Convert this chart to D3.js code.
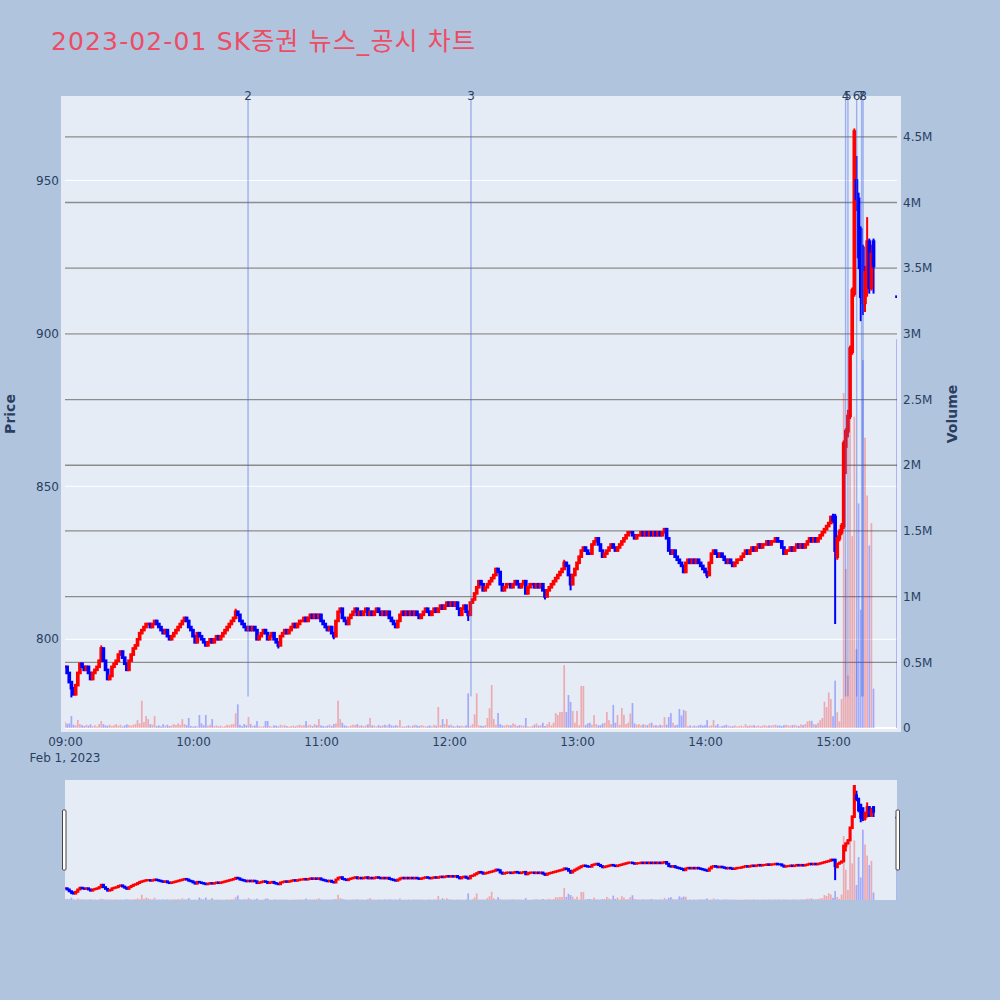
<!DOCTYPE html>
<html>
<head>
<meta charset="utf-8">
<script src="https://cdn.jsdelivr.net/npm/d3@7"></script>
<style>
  html, body { margin: 0; padding: 0; background: #b0c4de; }
  svg { display: block; font-family: "DejaVu Sans", verdana, "Noto Sans CJK KR", sans-serif; }
</style>
</head>
<body>
<div id="chart"></div>
<script>
// 1-minute closes from 09:00 to 14:59 (open of each bar = previous close)
const firstOpen = 791;
const earlyClose = [
  791,789,786,784,782,785,789,792,791,790, 791,789,787,789,790,791,793,797,793,790,
  787,788,791,792,793,795,796,794,792,790, 793,795,797,798,800,802,803,804,805,805,
  804,805,806,805,804,803,802,803,801,800, 801,802,803,804,805,806,807,806,804,803,
  801,799,802,801,800,799,798,799,800,799, 800,801,800,801,802,803,804,805,806,807,
  809,808,806,805,804,803,804,803,804,803, 800,801,802,803,802,800,801,802,800,799,
  798,801,802,803,802,803,804,805,804,805, 806,806,807,806,807,808,807,808,807,808,
  806,805,804,803,804,802,801,806,809,810, 807,806,805,807,808,809,810,808,809,808,
  809,810,808,809,808,809,810,809,808,809, 808,809,807,806,805,804,806,808,809,808,
  809,808,809,808,809,808,807,808,809,810, 809,808,809,810,809,810,811,810,811,812,
  811,812,811,812,810,808,810,811,809,808, 812,813,815,817,819,818,816,817,818,819,
  820,821,823,822,818,816,817,818,818,817, 818,819,818,817,818,819,815,817,818,818,
  817,818,817,818,816,814,816,817,818,819, 820,821,822,823,825,824,821,818,821,823,
  825,827,829,830,829,828,828,831,832,833, 831,829,827,828,829,830,831,830,829,830,
  831,832,833,834,835,835,834,833,834,834, 835,834,835,834,835,834,835,834,835,834,
  835,836,833,829,828,829,827,826,825,824, 822,825,826,825,826,825,826,825,824,823,
  822,821,825,828,829,828,827,828,827,826, 825,826,825,824,825,826,826,827,828,829,
  828,829,830,829,830,831,830,831,831,832, 831,832,832,833,832,832,830,828,829,829,
  830,829,830,831,830,831,830,831,832,833, 832,833,832,833,834,835,836,837,838,840
];
const wickHigh = { 17: 798, 80: 810, 234: 826 };
const wickLow = { 3: 781, 100: 797, 126: 800, 189: 806, 225: 813, 237: 816, 301: 820 };

// 15:00 - 15:19, full OHLC
const lateOpen  = [840,840,827,833,835,837,863,868,873,894,913,950,944,934,928,910,920,930,915,930];
const lateHigh  = [841,841,834,836,838,865,869,875,896,915,967,958,946,935,929,922,938,931,929,931];
const lateLow   = [838,805,826,832,834,836,854,866,872,893,912,940,921,904,906,907,912,913,914,913];
const lateClose = [839,829,833,835,837,864,868,873,895,914,966,944,925,912,910,920,930,915,926,922];

// closing auction 15:30
const closeTime = "15:30";
const closePrice = 912;
const closeVolume = 2960000;

// volume per minute 09:00 - 15:19, thousands of shares
const volumeK = [
  48,33,35,91,25,20,61,30,22,15, 25,18,28,14,22,12,30,53,28,20,
  18,25,15,22,30,18,25,12,20,28, 22,18,25,30,60,35,208,45,91,68,
  30,25,91,15,20,12,28,18,25,15, 20,30,22,35,25,68,30,22,76,15,
  10,15,12,99,35,20,99,18,25,68, 15,20,12,18,10,15,25,20,28,30,
  112,180,25,15,30,22,84,30,15,20, 53,12,10,15,53,53,15,10,20,18,
  12,25,18,22,15,10,15,18,12,20, 25,18,22,53,20,25,15,30,22,68,
  20,15,12,18,25,15,30,35,208,68, 40,20,15,12,18,25,22,30,18,20,
  15,20,28,76,20,18,12,22,15,20, 25,18,30,20,15,22,18,61,12,10,
  15,20,12,18,25,20,15,22,18,12, 15,20,12,25,18,160,22,68,30,68,
  20,25,15,12,20,15,18,12,20,264, 15,30,104,264,20,18,15,22,76,150,
  327,68,25,114,30,20,18,25,22,20, 35,28,15,22,20,18,76,12,10,15,
  25,35,18,22,40,15,28,45,20,40, 114,100,122,122,479,122,251,198,130,40,
  130,20,320,320,22,35,40,25,99,30, 20,22,35,40,122,60,30,176,40,99,
  25,152,100,30,40,110,190,35,25,30, 20,28,25,22,35,40,20,22,18,25,
  20,84,25,84,114,40,20,25,145,95, 137,130,15,20,12,18,15,20,25,18,
  22,60,15,20,60,18,30,12,15,20, 25,18,12,15,20,12,15,18,12,30,
  15,20,18,22,15,20,12,18,22,15, 20,18,22,25,18,20,15,22,25,20,
  18,22,25,20,15,28,22,30,50,55, 55,30,25,40,60,76,200,160,270,220,
  90,360,120,50,220,2550,1210,400,2400,1460, 2370,600,1710,900,2800,2210,1770,1390,1560,300
];

// news / disclosure markers
const newsLabels = ["2", "3", "4", "5", "6", "7", "8"];
const newsTimes = ["10:25:48", "12:10:18", "15:05:54", "15:07:00", "15:11:06", "15:13:24", "15:14:06"];

const priceTicks = [800, 850, 900, 950];
const volumeTicks = [0, 0.5e6, 1e6, 1.5e6, 2e6, 2.5e6, 3e6, 3.5e6, 4e6, 4.5e6];
const hourTicks = ["09:00", "10:00", "11:00", "12:00", "13:00", "14:00", "15:00"];

const title = "2023-02-01 SK증권 뉴스_공시 차트";

// ---------------------------------------------------------------
const W = 1000, H = 1000;
const plotL = 65, plotR = 897, plotT = 100, plotB = 728;
const sliderT = 780, sliderB = 900;

const parseT = s => {
  const p = s.split(":").map(Number);
  return new Date(2023, 1, 1, p[0], p[1], p[2] || 0);
};
const minuteDate = m => new Date(2023, 1, 1, 9, m);

// build candles
const candles = [];
let prev = firstOpen;
earlyClose.forEach((c, i) => {
  const o = prev;
  let h = Math.max(o, c), l = Math.min(o, c);
  if (wickHigh[i] != null) h = Math.max(h, wickHigh[i]);
  if (wickLow[i] != null) l = Math.min(l, wickLow[i]);
  candles.push({ t: minuteDate(i), o, h, l, c });
  prev = c;
});
lateClose.forEach((c, k) => {
  candles.push({ t: minuteDate(360 + k), o: lateOpen[k], h: lateHigh[k], l: lateLow[k], c });
});
candles.push({ t: parseT(closeTime), o: closePrice, h: closePrice, l: closePrice, c: closePrice });

let lastUp = true;
candles.forEach((d, i) => {
  if (d.c > d.o) d.up = true;
  else if (d.c < d.o) d.up = false;
  else d.up = i > 0 && d.c !== candles[i - 1].c ? d.c > candles[i - 1].c : lastUp;
  lastUp = d.up;
  d.v = i < volumeK.length ? volumeK[i] * 1000 : closeVolume;
});

const x = d3.scaleTime()
  .domain([parseT("09:00"), parseT("15:30")])
  .range([plotL, plotR]);
const yPrice = d3.scaleLinear().domain([771.0, 976.3]).range([plotB, plotT]);
const yVol = d3.scaleLinear().domain([0, 4.78e6]).range([plotB, plotT]);
const yPriceS = yPrice.copy().range([sliderB, sliderT]);
const yVolS = yVol.copy().range([sliderB, sliderT]);

const svg = d3.select("#chart").append("svg")
  .attr("width", W).attr("height", H);

svg.append("rect").attr("width", W).attr("height", H).attr("fill", "#b0c4de");

const defs = svg.append("defs");
defs.append("clipPath").attr("id", "clipMain")
  .append("rect").attr("x", plotL).attr("y", plotT - 4).attr("width", plotR - plotL).attr("height", plotB - plotT + 4);
defs.append("clipPath").attr("id", "clipSlider")
  .append("rect").attr("x", plotL).attr("y", sliderT).attr("width", plotR - plotL).attr("height", sliderB - sliderT);

// title
svg.append("text")
  .attr("x", 51).attr("y", 50)
  .attr("font-size", 25)
  .attr("fill", "#ee4c64")
  .attr("textLength", 424)
  .attr("lengthAdjust", "spacing")
  .text(title);

// plot background
svg.append("rect")
  .attr("x", plotL - 4).attr("y", plotT - 4)
  .attr("width", plotR - plotL + 8).attr("height", plotB - plotT + 8)
  .attr("fill", "#e5ecf6");

// price gridlines (white)
svg.append("g").selectAll("line").data(priceTicks).join("line")
  .attr("x1", plotL).attr("x2", plotR)
  .attr("y1", d => yPrice(d)).attr("y2", d => yPrice(d))
  .attr("stroke", "white").attr("stroke-width", 1);

// volume gridlines (gray)
svg.append("g").selectAll("line").data(volumeTicks.slice(1)).join("line")
  .attr("x1", plotL).attr("x2", plotR)
  .attr("y1", d => yVol(d)).attr("y2", d => yVol(d))
  .attr("stroke", "#8c8c8c").attr("stroke-width", 1.3);

svg.append("line")
  .attr("x1", plotL).attr("x2", plotR)
  .attr("y1", yVol(0)).attr("y2", yVol(0))
  .attr("stroke", "white").attr("stroke-width", 2);

const step = x(minuteDate(1)) - x(minuteDate(0));

function drawSeries(g, yP, yV, lw) {
  g.append("g").selectAll("rect").data(candles).join("rect")
    .attr("x", d => x(d.t) - step * 0.4)
    .attr("width", step * 0.8)
    .attr("y", d => yV(d.v))
    .attr("height", d => yV(0) - yV(d.v))
    .attr("fill", d => d.up ? "rgba(255,0,0,0.28)" : "rgba(0,0,255,0.28)");

  const cg = g.append("g");
  cg.selectAll("line").data(candles).join("line")
    .attr("x1", d => x(d.t)).attr("x2", d => x(d.t))
    .attr("y1", d => yP(d.h)).attr("y2", d => yP(d.l))
    .attr("stroke", d => d.up ? "#ff0000" : "#0000ff")
    .attr("stroke-width", 2);
  cg.selectAll("rect").data(candles).join("rect")
    .attr("x", d => x(d.t) - step * 0.25)
    .attr("width", step * 0.5)
    .attr("y", d => yP(Math.max(d.o, d.c)))
    .attr("height", d => Math.max(0.01, Math.abs(yP(d.o) - yP(d.c))))
    .attr("fill", d => d.up ? "#ff0000" : "#0000ff")
    .attr("stroke", d => d.up ? "#ff0000" : "#0000ff")
    .attr("stroke-width", lw);
}

drawSeries(svg.append("g").attr("clip-path", "url(#clipMain)"), yPrice, yVol, 2.6);

// news lines and labels
const news = newsTimes.map((t, i) => ({ t: parseT(t), label: newsLabels[i] }));
svg.append("g").selectAll("line").data(news).join("line")
  .attr("x1", d => x(d.t)).attr("x2", d => x(d.t))
  .attr("y1", plotT).attr("y2", plotB - 0.05 * (plotB - plotT))
  .attr("stroke", "rgba(65,105,225,0.45)").attr("stroke-width", 1.4);
svg.append("g").selectAll("text").data(news).join("text")
  .attr("x", d => x(d.t)).attr("y", plotT)
  .attr("text-anchor", "middle")
  .attr("font-size", 12).attr("fill", "#2a3f5f")
  .text(d => d.label);

// axes
const tickColor = "#2a3f5f";
svg.append("g").selectAll("text").data(priceTicks).join("text")
  .attr("x", 59).attr("y", d => yPrice(d)).attr("dy", "0.35em")
  .attr("text-anchor", "end").attr("font-size", 12).attr("fill", tickColor)
  .text(d => d);

svg.append("g").selectAll("text").data(volumeTicks).join("text")
  .attr("x", 903).attr("y", d => yVol(d)).attr("dy", "0.35em")
  .attr("font-size", 12).attr("fill", tickColor)
  .text(d => d === 0 ? "0" : (d / 1e6) + "M");

const xAxis = d3.axisBottom(x)
  .tickValues(hourTicks.map(parseT))
  .tickFormat(d3.timeFormat("%H:%M"))
  .tickSize(0).tickPadding(0);
const xg = svg.append("g").attr("transform", `translate(0,${plotB + 9})`).call(xAxis);
xg.select(".domain").remove();
xg.selectAll("text").attr("font-size", 12).attr("fill", tickColor)
  .attr("font-family", "\"DejaVu Sans\", verdana, sans-serif");
svg.append("text")
  .attr("x", plotL).attr("y", 762).attr("text-anchor", "middle")
  .attr("font-size", 12).attr("fill", tickColor)
  .text("Feb 1, 2023");

svg.append("text")
  .attr("transform", `translate(10,${(plotT + plotB) / 2}) rotate(-90)`)
  .attr("dy", "0.35em").attr("text-anchor", "middle")
  .attr("font-size", 14).attr("font-weight", "bold").attr("fill", tickColor)
  .text("Price");
svg.append("text")
  .attr("transform", `translate(952,${(plotT + plotB) / 2}) rotate(-90)`)
  .attr("dy", "0.35em").attr("text-anchor", "middle")
  .attr("font-size", 14).attr("font-weight", "bold").attr("fill", tickColor)
  .text("Volume");

// range slider
svg.append("rect")
  .attr("x", plotL).attr("y", sliderT)
  .attr("width", plotR - plotL).attr("height", sliderB - sliderT)
  .attr("fill", "#e5ecf6");
drawSeries(svg.append("g").attr("clip-path", "url(#clipSlider)"), yPriceS, yVolS, 2);
[plotL - 2.5, plotR - 1].forEach(hx => {
  svg.append("rect")
    .attr("x", hx).attr("y", 810)
    .attr("width", 3.5).attr("height", 60)
    .attr("rx", 1)
    .attr("fill", "white").attr("stroke", "#444").attr("stroke-width", 1);
});
</script>
</body>
</html>
